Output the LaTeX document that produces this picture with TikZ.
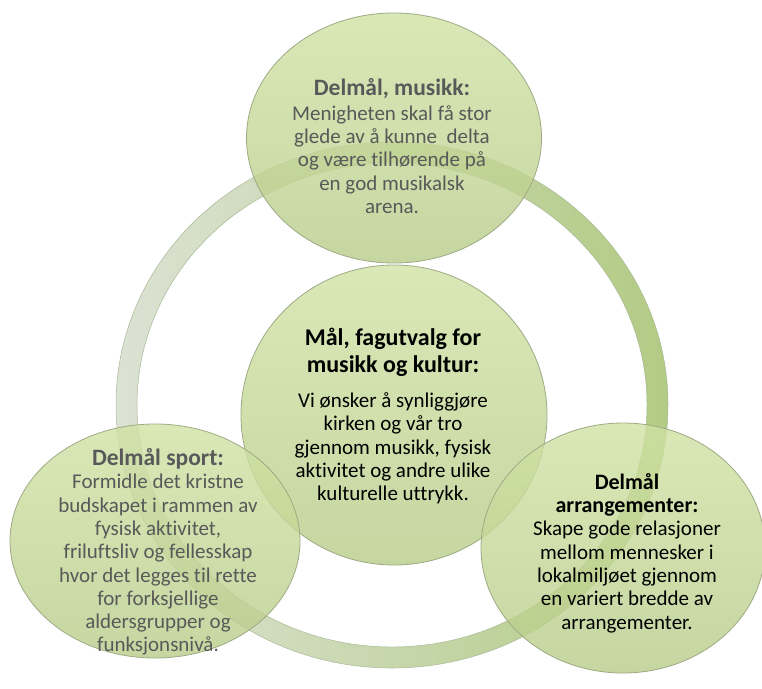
\documentclass[tikz,border=0pt]{standalone}
\usepackage{fontspec}
\setmainfont{Carlito}[Ligatures=NoCommon]
\usetikzlibrary{shapes.geometric}

\definecolor{bubblelight}{RGB}{208,226,164}
\definecolor{bubbledark}{RGB}{184,204,138}
\definecolor{bubbleedge}{RGB}{158,170,132}
\definecolor{ringpale}{RGB}{220,226,212}
\definecolor{ringgreen}{RGB}{178,203,132}
\definecolor{ringedge}{RGB}{170,184,150}
\definecolor{textgray}{RGB}{89,89,89}

\newcommand\tittel[1]{{\fontsize{23.5}{23.3}\selectfont\bfseries #1}}
\newcommand\hovedtittel[1]{{\fontsize{24}{27}\selectfont\bfseries #1}}

\begin{document}
\begin{tikzpicture}[x=1pt,y=-1pt,inner sep=0pt,align=center,
	font=\fontsize{21}{23.3}\selectfont]
	\tikzstyle{bubble}=[ellipse,draw=bubbleedge,line width=0.8pt,top color=bubblelight,bottom color=bubbledark,fill opacity=0.8]
	\tikzstyle{graytext}=[text=textgray]
	\tikzstyle{blacktext}=[text=black]

	\useasboundingbox (0,0) rectangle (762,688);

	% ring behind the bubbles
	\coordinate (hub) at (392,405);
	\shade[even odd rule,left color=ringpale,right color=ringgreen,draw=ringedge,line width=0.5pt]
		(hub) ellipse (276pt and 263pt) (hub) ellipse (255pt and 242pt);

	\node[bubble,minimum width=306pt,minimum height=300pt] (mal) at (394,415) {};
	\node[bubble,minimum width=295pt,minimum height=250pt] (musikk) at (394,138) {};
	\node[bubble,minimum width=290pt,minimum height=234pt] (sport) at (155,541) {};
	\node[bubble,minimum width=284pt,minimum height=250pt] (arr) at (623,548) {};

	\node[blacktext] (maltekst) at ([yshift=-1pt,xshift=-1pt]mal) {\hovedtittel{Mål, fagutvalg for}\\[3.7pt]
		\hovedtittel{musikk og kultur:}\\[11.7pt]
		Vi ønsker å synliggjøre\\kirken og vår tro\\gjennom musikk, fysisk\\aktivitet og andre ulike\\kulturelle uttrykk.};
	\node[graytext] (musikktekst) at ([yshift=-8pt,xshift=-2pt]musikk) {\tittel{Delmål, musikk:}\\[1.7pt]
		Menigheten skal få stor\\glede av å kunne\ \ delta\\og være tilhørende på\\en god musikalsk\\arena.};
	\node[graytext] (sporttekst) at ([yshift=-11pt,xshift=3pt]sport) {\tittel{Delmål sport:}\\
		Formidle det kristne\\budskapet i rammen av\\fysisk aktivitet,\\friluftsliv og fellesskap\\hvor det legges til rette\\for forksjellige\\aldersgrupper og\\funksjonsnivå.};
	\node[blacktext] (arrtekst) at ([yshift=-5pt,xshift=4pt]arr) {{\fontsize{22}{23.3}\selectfont\bfseries Delmål}\\
		{\fontsize{22}{23.3}\selectfont\bfseries arrangementer:}\\
		Skape gode relasjoner\\mellom mennesker i\\lokalmiljøet gjennom\\en variert bredde av\\arrangementer.};
\end{tikzpicture}
\end{document}
